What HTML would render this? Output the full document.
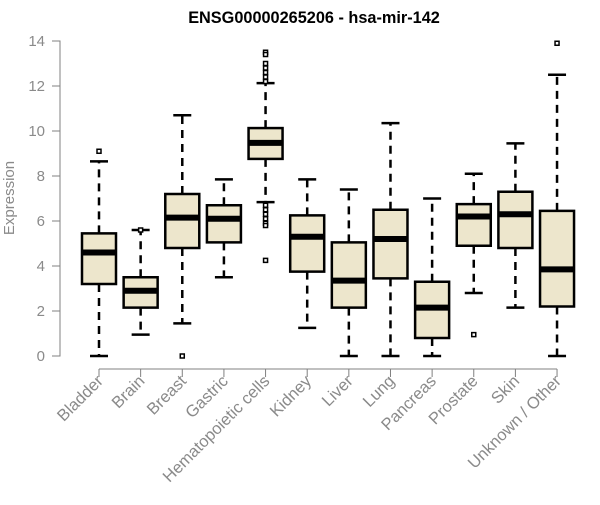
<!DOCTYPE html>
<html><head><meta charset="utf-8"><style>
body{margin:0;background:#fff}
svg{font-family:"Liberation Sans",sans-serif}
</style></head><body>
<svg id="c" width="600" height="500">
<text x="314" y="23" text-anchor="middle" font-weight="bold" font-size="16.3">ENSG00000265206 - hsa-mir-142</text>
<text transform="translate(14,198) rotate(-90)" text-anchor="middle" font-size="15" fill="#8a8a8a">Expression</text>
</svg>
<script>
const categories=["Bladder","Brain","Breast","Gastric","Hematopoietic cells","Kidney","Liver","Lung","Pancreas","Prostate","Skin","Unknown / Other"];
const lowW=[0,0.95,1.45,3.5,6.84,1.25,0,0,0,2.8,2.15,0];
const q1=[3.2,2.15,4.8,5.05,8.76,3.75,2.15,3.45,0.8,4.9,4.8,2.2];
const med=[4.6,2.9,6.15,6.1,9.47,5.3,3.35,5.2,2.15,6.2,6.3,3.85];
const q3=[5.45,3.5,7.2,6.7,10.13,6.25,5.05,6.5,3.3,6.75,7.3,6.45];
const highW=[8.65,5.6,10.7,7.85,12.13,7.85,7.4,10.35,7.0,8.1,9.45,12.5];
const outliers=[[9.1],[5.6],[0],[],[13.5,13.4,13.0,12.8,12.6,12.4,12.2,6.7,6.5,6.3,6.1,5.9,5.8,4.25],[],[],[],[],[0.95],[],[13.9]];
const yTicks=[0,2,4,6,8,10,12,14];
const svg=document.getElementById('c');const NS='http://www.w3.org/2000/svg';
const y=v=>356-v*22.5;const x=i=>99+i*41.64;
function mk(t,a){const e=document.createElementNS(NS,t);for(const k in a)e.setAttribute(k,a[k]);svg.appendChild(e);return e;}
let ax=mk('path',{d:`M52 ${y(0)}H60V${y(14)}H52`,stroke:'#808080',fill:'none'});


yTicks.forEach(v=>{const l=mk('line',{x1:52,x2:60,y1:y(v),y2:y(v),stroke:'#808080'});


const t=mk('text',{x:45,y:y(v)+5,'text-anchor':'end','font-size':15,fill:'#8a8a8a'});t.textContent=v;

});
let xa=mk('line',{x1:x(0),x2:x(11),y1:369,y2:369,stroke:'#808080'});


categories.forEach((c,i)=>{const cx=x(i);
const tk=mk('line',{x1:cx,x2:cx,y1:369,y2:377,stroke:'#808080'});


const t=mk('text',{transform:`translate(${cx+5},${382}) rotate(-45)`,'text-anchor':'end','font-size':16.5,fill:'#8a8a8a'});t.textContent=c;


const g=document.createElementNS(NS,'g');svg.appendChild(g);


const add=(t,a)=>{const e=document.createElementNS(NS,t);for(const k in a)e.setAttribute(k,a[k]);g.appendChild(e);};
add('line',{x1:cx,x2:cx,y1:y(q3[i]),y2:y(highW[i]),stroke:'#000','stroke-width':2.5,'stroke-dasharray':'8,6'});
add('line',{x1:cx,x2:cx,y1:y(q1[i]),y2:y(lowW[i]),stroke:'#000','stroke-width':2.5,'stroke-dasharray':'8,6'});
add('line',{x1:cx-9,x2:cx+9,y1:y(highW[i]),y2:y(highW[i]),stroke:'#000','stroke-width':2.5});
add('line',{x1:cx-9,x2:cx+9,y1:y(lowW[i]),y2:y(lowW[i]),stroke:'#000','stroke-width':2.5});
add('rect',{x:cx-17,y:y(q3[i]),width:34,height:y(q1[i])-y(q3[i]),fill:'#ede6cc',stroke:'#000','stroke-width':2.5});
add('line',{x1:cx-17,x2:cx+17,y1:y(med[i]),y2:y(med[i]),stroke:'#000','stroke-width':6});
outliers[i].forEach(v=>add('rect',{x:cx-2,y:y(v)-2,width:4,height:4,fill:'#fff',stroke:'#000','stroke-width':1.5}));
});
</script>
</body></html>
